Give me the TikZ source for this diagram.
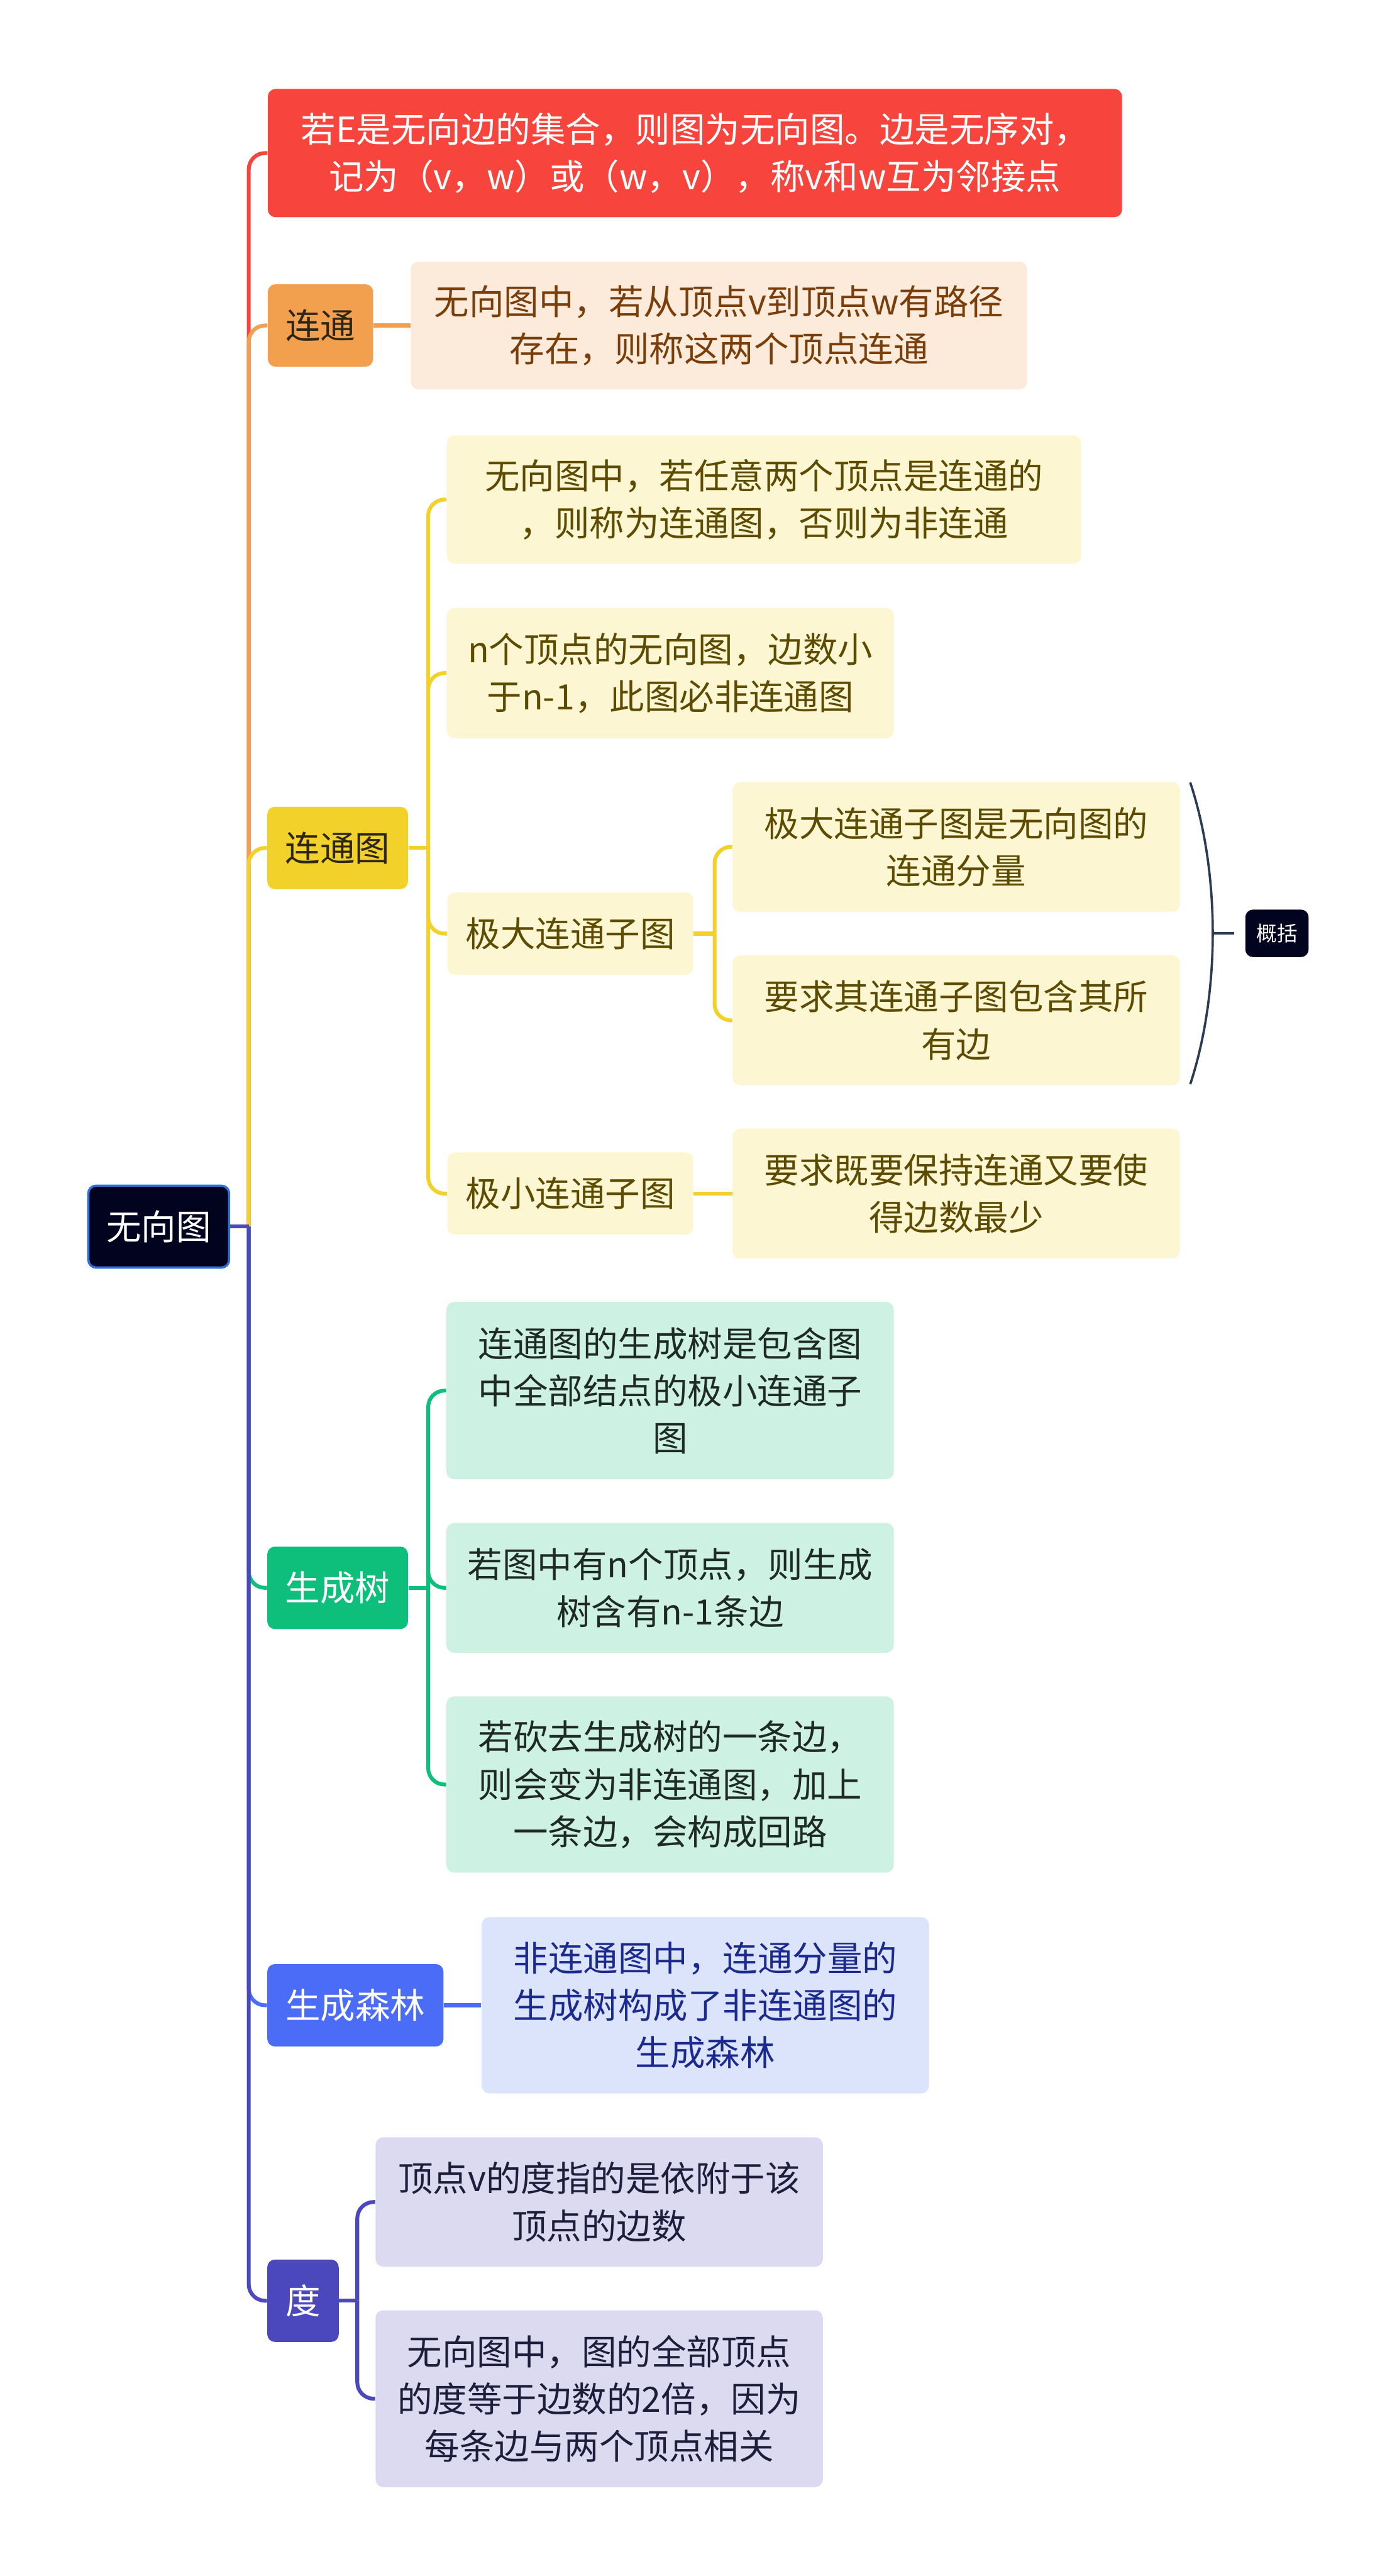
\documentclass[tikz,border=0pt]{standalone}
\usepackage{fontspec}
\setmainfont{Noto Sans CJK SC}
\usepackage{xcolor}
\usepackage{tikz}

\definecolor{navy}{HTML}{02031F}
\definecolor{rootedge}{HTML}{2F6FD8}
\definecolor{redc}{HTML}{F7443D}
\definecolor{orgc}{HTML}{F3A04E}
\definecolor{peach}{HTML}{FCEBDB}
\definecolor{brownc}{HTML}{7A3E0A}
\definecolor{darkc}{HTML}{2E2614}
\definecolor{yelc}{HTML}{F2D12A}
\definecolor{cream}{HTML}{FCF6D2}
\definecolor{olive}{HTML}{5C4B00}
\definecolor{grnc}{HTML}{0DBF7B}
\definecolor{mint}{HTML}{CDF1E2}
\definecolor{mintxt}{HTML}{1F2A24}
\definecolor{bluc}{HTML}{4A6CF7}
\definecolor{lblue}{HTML}{DCE4FC}
\definecolor{blutxt}{HTML}{1B2A8E}
\definecolor{indc}{HTML}{4B48BE}
\definecolor{lav}{HTML}{DCDAF1}
\definecolor{lavtxt}{HTML}{1E1E3C}
\definecolor{brkc}{HTML}{2B3A55}

\tikzset{
  box/.style={rounded corners=0.14cm,inner sep=0pt,align=center,
    font=\fontsize{18.2}{24.7}\selectfont},
  mainbox/.style={box,minimum height=1.51cm},
  leaf/.style={box,minimum width=8.2cm},
  conn/.style={line width=2pt,rounded corners=0.3cm},
  brk/.style={brkc,line width=1.2pt}
}

\begin{document}
\begin{tikzpicture}[x=1cm,y=-1cm]
  \useasboundingbox (0,0) rectangle (25.6,47.21);
  % root
  \node[mainbox,fill=navy,draw=rootedge,line width=1.2pt,text=white,minimum width=2.58cm,minimum height=1.5cm] (root) at (2.91,22.48) {无向图};
  \coordinate (rootj) at (4.56,22.48);

  % first level
  \node[box,fill=redc,text=white,minimum width=15.66cm,minimum height=2.35cm] (def) at (12.74,2.805)
    {若E是无向边的集合，则图为无向图。边是无序对，\\记为（v，w）或（w，v），称v和w互为邻接点};
  \node[mainbox,fill=orgc,text=darkc,minimum width=1.93cm] (lt) at (5.875,5.965) {连通};
  \node[mainbox,fill=yelc,text=darkc,minimum width=2.58cm] (ltt) at (6.19,15.54) {连通图};
  \node[mainbox,fill=grnc,text=white,minimum width=2.58cm] (sct) at (6.19,29.10) {生成树};
  \node[mainbox,fill=bluc,text=white,minimum width=3.23cm] (scl) at (6.515,36.75) {生成森林};
  \node[mainbox,fill=indc,text=white,minimum width=1.31cm] (deg) at (5.555,42.165) {度};

  % 连通
  \node[box,fill=peach,text=brownc,minimum width=11.3cm,minimum height=2.34cm] (ltc) at (13.18,5.965)
    {无向图中，若从顶点v到顶点w有路径\\存在，则称这两个顶点连通};

  % 连通图
  \coordinate (lttj) at (7.85,15.54);
  \node[box,fill=cream,text=olive,minimum width=11.63cm,minimum height=2.35cm] (ltta) at (14.005,9.155)
    {无向图中，若任意两个顶点是连通的\\，则称为连通图，否则为非连通};
  \node[leaf,fill=cream,text=olive,minimum height=2.39cm] (lttb) at (12.29,12.335)
    {n个顶点的无向图，边数小\\于n-1，此图必非连通图};
  \node[mainbox,fill=cream,text=olive,minimum width=4.51cm] (maxs) at (10.455,17.11) {极大连通子图};
  \node[mainbox,fill=cream,text=olive,minimum width=4.51cm] (mins) at (10.455,21.875) {极小连通子图};
  \coordinate (maxj) at (13.10,17.11);
  \node[leaf,fill=cream,text=olive,minimum height=2.38cm] (maxa) at (17.53,15.52)
    {极大连通子图是无向图的\\连通分量};
  \node[leaf,fill=cream,text=olive,minimum height=2.38cm] (maxb) at (17.53,18.70)
    {要求其连通子图包含其所\\有边};
  \node[leaf,fill=cream,text=olive,minimum height=2.38cm] (mina) at (17.53,21.875)
    {要求既要保持连通又要使\\得边数最少};

  % 概括
  \node[box,fill=navy,text=white,font=\fontsize{10.7}{13}\selectfont,minimum width=1.16cm,minimum height=0.87cm] (gk) at (23.41,17.105) {概括};
  \coordinate (brt) at (21.82,14.34);
  \coordinate (brb) at (21.82,19.87);
  \coordinate (brm) at (22.23,17.105);

  % 生成树
  \coordinate (sctj) at (7.85,29.10);
  \node[leaf,fill=mint,text=mintxt,minimum height=3.25cm] (scta) at (12.285,25.485)
    {连通图的生成树是包含图\\中全部结点的极小连通子\\图};
  \node[leaf,fill=mint,text=mintxt,minimum height=2.38cm] (sctb) at (12.285,29.10)
    {若图中有n个顶点，则生成\\树含有n-1条边};
  \node[leaf,fill=mint,text=mintxt,minimum height=3.23cm] (sctc) at (12.285,32.705)
    {若砍去生成树的一条边，\\则会变为非连通图，加上\\一条边，会构成回路};

  % 生成森林
  \node[leaf,fill=lblue,text=blutxt,minimum height=3.23cm] (scla) at (12.93,36.75)
    {非连通图中，连通分量的\\生成树构成了非连通图的\\生成森林};

  % 度
  \coordinate (degj) at (6.55,42.165);
  \node[leaf,fill=lav,text=lavtxt,minimum height=2.37cm] (dega) at (10.985,40.355)
    {顶点v的度指的是依附于该\\顶点的边数};
  \node[leaf,fill=lav,text=lavtxt,minimum height=3.24cm] (degb) at (10.985,43.96)
    {无向图中，图的全部顶点\\的度等于边数的2倍，因为\\每条边与两个顶点相关};

  % connectors
  \foreach \n/\c in {def/redc,lt/orgc,ltt/yelc,sct/grnc,scl/bluc,deg/indc}
    \draw[conn,\c] (rootj) |- (\n.west);
  \draw[conn,indc] (root.east) -- (rootj);
  \draw[conn,orgc] (lt.east) -- (ltc.west);
  \draw[conn,yelc] (ltt.east) -- (lttj);
  \foreach \n in {ltta,lttb,maxs,mins}
    \draw[conn,yelc] (lttj) |- (\n.west);
  \draw[conn,yelc] (maxs.east) -- (maxj);
  \foreach \n in {maxa,maxb}
    \draw[conn,yelc] (maxj) |- (\n.west);
  \draw[conn,yelc] (mins.east) -- (mina.west);
  \draw[conn,grnc] (sct.east) -- (sctj);
  \foreach \n in {scta,sctb,sctc}
    \draw[conn,grnc] (sctj) |- (\n.west);
  \draw[conn,bluc] (scl.east) -- (scla.west);
  \draw[conn,indc] (deg.east) -- (degj);
  \foreach \n in {dega,degb}
    \draw[conn,indc] (degj) |- (\n.west);

  % summary bracket
  \draw[brk] (brt) .. controls (22.37,16.0) and (22.37,18.2) .. (brb);
  \draw[brk,shorten >=0.2cm] (brm) -- (gk.west);
\end{tikzpicture}
\end{document}
